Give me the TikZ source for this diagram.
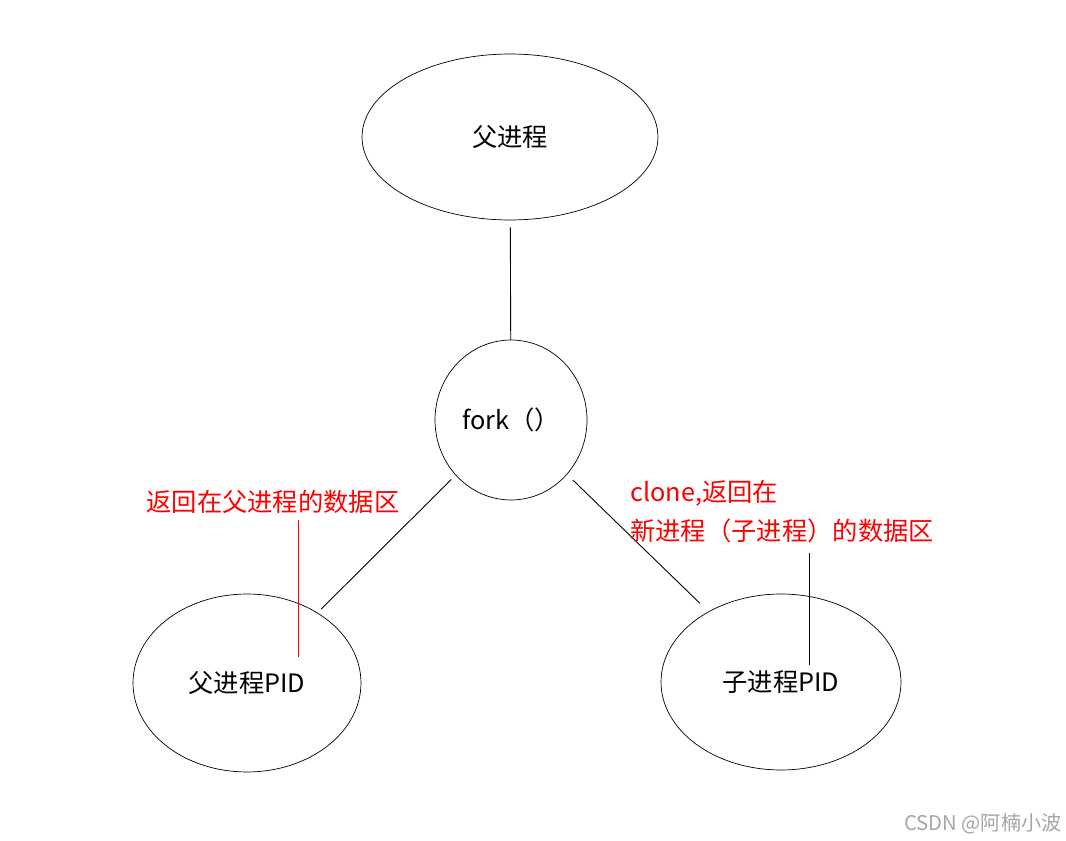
\documentclass[tikz,border=0pt]{standalone}
\usepackage{fontspec}
\setmainfont{Noto Sans CJK SC}
\usetikzlibrary{shapes.geometric}
\begin{document}
\begin{tikzpicture}[x=0.02cm,y=-0.02cm,
  ell/.style={draw,ellipse,inner sep=0pt,font=\fontsize{14.4}{17}\selectfont},
  redtxt/.style={text=red,font=\fontsize{14.4}{17}\selectfont,inner sep=0pt},
  conn/.style={draw,line width=0.5pt}]
\useasboundingbox[fill=white] (0,0) rectangle (1066,841);
\node[ell,minimum width=5.92cm,minimum height=3.32cm] (top) at (510,137) {父进程};
\node[ell,minimum width=3.04cm,minimum height=3.2cm] (fork) at (511,420) {fork（）};
\node[ell,minimum width=4.56cm,minimum height=3.56cm] (left) at (247,683) {父进程PID};
\node[ell,minimum width=4.8cm,minimum height=3.52cm] (right) at (781,682) {子进程PID};
\draw[conn,shorten <=0.14cm] (top) -- (fork);
\draw[conn,shorten <=0.12cm,shorten >=0.1cm] (fork) -- (left);
\draw[conn,shorten <=0.16cm,shorten >=0.24cm] (fork) -- (right);
\node[redtxt] (l1) at (273,502) {返回在父进程的数据区};
\node[redtxt,anchor=west] (r1) at (630,493) {clone,返回在};
\node[redtxt,anchor=west] (r2) at (630,531) {新进程（子进程）的数据区};
\coordinate (a1) at (298,520); \coordinate (a2) at (298,657);
\coordinate (b1) at (809,553); \coordinate (b2) at (809,665);
\draw[red,line width=0.5pt] (a1) -- (a2);
\draw[black,line width=0.5pt] (b1) -- (b2);
\node[text=black!35,font=\fontsize{11.5}{13}\selectfont,inner sep=0pt] (wm) at (983,824) {CSDN @阿楠小波};
\end{tikzpicture}
\end{document}
